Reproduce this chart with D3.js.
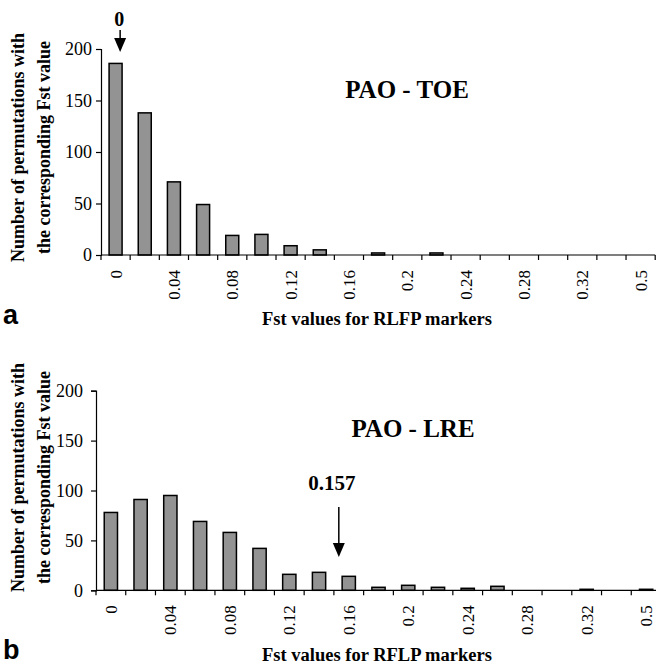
<!DOCTYPE html>
<html>
<head>
<meta charset="utf-8">
<script src="https://cdn.jsdelivr.net/npm/d3@7"></script>
<style>
  body { margin: 0; background: #fff; }
  svg { display: block; }
  svg text { font-family: "Liberation Serif", "Times New Roman", Times, serif; fill: #000; }
  svg text.letter { font-family: "Liberation Sans", Arial, Helvetica, sans-serif; }
</style>
</head>
<body>
<svg id="chart" width="656" height="665"></svg>
<script>
// Fst categories (bins) and permutation counts
var fstValues = ["0", "0.02", "0.04", "0.06", "0.08", "0.1", "0.12", "0.14", "0.16", "0.18",
  "0.2", "0.22", "0.24", "0.26", "0.28", "0.3", "0.32", "0.34", "0.5"];
var shownLabels = ["0", "0.04", "0.08", "0.12", "0.16", "0.2", "0.24", "0.28", "0.32", "0.5"];
var toeCounts = [186, 138, 71, 49, 19, 20, 9, 5, 0, 2, 0, 2, 0, 0, 0, 0, 0, 0, 0];
var lreCounts = [78, 91, 95, 69, 58, 42, 16, 18, 14, 3, 5, 3, 2, 4, 0, 0, 1, 0, 1];
var countTicks = [0, 50, 100, 150, 200];

var panels = [
  {
    letter: "a", title: "PAO - TOE", xTitle: "Fst values for RLFP markers",
    counts: toeCounts, marker: "0", markerAt: "0", markerShift: 0.85,
    left: 101, right: 655.2, top: 49, bottom: 255,
    titleX: 407, titleY: 97.5, labelCy: 147.5, yLabelGap: 9,
    xTitleY: 325, letterY: 324,
    arrowTop: 30, arrowTip: 52, markerY: 26
  },
  {
    letter: "b", title: "PAO - LRE", xTitle: "Fst values for RFLP markers",
    counts: lreCounts, marker: "0.157", markerAt: "0.16", markerShift: -0.25,
    left: 96, right: 661, top: 390.7, bottom: 590.3,
    titleX: 413, titleY: 437, labelCy: 477.5, yLabelGap: 13,
    xTitleY: 661, letterY: 659,
    arrowTop: 507, arrowTip: 557, markerY: 490
  }
];

var svg = d3.select("#chart");

panels.forEach(function (p) {
  var g = svg.append("g");

  var x = d3.scaleBand()
    .domain(fstValues)
    .range([p.left, p.right])
    .paddingInner(0.554)
    .paddingOuter(0.277);
  var y = d3.scaleLinear().domain([0, 200]).range([p.bottom, p.top]);
  var step = x.step();

  // bars
  g.selectAll("rect.bar")
    .data(fstValues.map(function (d, i) { return { fst: d, n: p.counts[i] }; })
      .filter(function (d) { return d.n > 0; }))
    .enter()
    .append("rect")
    .attr("class", "bar")
    .attr("x", function (d) { return x(d.fst); })
    .attr("width", x.bandwidth())
    .attr("y", function (d) { return y(d.n); })
    .attr("height", function (d) { return y(0) - y(d.n); })
    .attr("fill", "#939393")
    .attr("stroke", "#000")
    .attr("stroke-width", 1.5);

  // y axis
  var yAxis = g.append("g")
    .attr("transform", "translate(" + p.left + ",0)")
    .call(d3.axisLeft(y).tickValues(countTicks).tickSize(5).tickPadding(p.yLabelGap - 5));
  yAxis.attr("font-family", null);
  yAxis.select(".domain").attr("stroke", "#000").attr("stroke-width", 1.2);
  yAxis.selectAll(".tick line").attr("stroke", "#000").attr("stroke-width", 1.2);
  yAxis.selectAll(".tick text").style("font-size", "18px");

  // x axis with ticks at bin boundaries
  g.append("line")
    .attr("x1", p.left).attr("x2", p.right)
    .attr("y1", y(0)).attr("y2", y(0))
    .attr("stroke", "#000").attr("stroke-width", 1.2);
  var edges = fstValues.map(function (d) { return x(d) - step * x.paddingOuter(); });
  edges.push(p.right);
  g.selectAll("line.xtick")
    .data(edges)
    .enter()
    .append("line")
    .attr("class", "xtick")
    .attr("x1", function (d) { return d; }).attr("x2", function (d) { return d; })
    .attr("y1", y(0)).attr("y2", y(0) + 5)
    .attr("stroke", "#000").attr("stroke-width", 1.2);

  g.selectAll("text.xlab")
    .data(shownLabels)
    .enter()
    .append("text")
    .attr("class", "xlab")
    .attr("transform", function (d) {
      return "translate(" + (x(d) + x.bandwidth() / 2) + "," + (y(0) + 15) + ") rotate(-90)";
    })
    .attr("dy", "0.35em")
    .attr("text-anchor", "end")
    .style("font-size", "17px")
    .text(function (d) { return d; });

  // axis titles
  g.append("text")
    .attr("x", 262).attr("y", p.xTitleY)
    .style("font-size", "18.5px").style("font-weight", "bold")
    .text(p.xTitle);

  var yl = g.append("text")
    .attr("transform", "translate(0," + p.labelCy + ") rotate(-90)")
    .attr("text-anchor", "middle")
    .style("font-size", "18px").style("font-weight", "bold");
  yl.append("tspan").attr("x", 0).attr("y", 24).text("Number of permutations with");
  yl.append("tspan").attr("x", 0).attr("y", 50).text("the corresponding Fst value");

  // panel title and letter
  g.append("text")
    .attr("x", p.titleX).attr("y", p.titleY)
    .attr("text-anchor", "middle")
    .style("font-size", "25px").style("font-weight", "bold")
    .text(p.title);

  g.append("text")
    .attr("class", "letter")
    .attr("x", 3).attr("y", p.letterY)
    .style("font-size", "27px").style("font-weight", "bold")
    .text(p.letter);

  // observed value arrow
  var ax = x(p.markerAt) + x.bandwidth() * p.markerShift;
  var headH = 14;
  g.append("line")
    .attr("x1", ax).attr("x2", ax)
    .attr("y1", p.arrowTop).attr("y2", p.arrowTip - headH)
    .attr("stroke", "#000").attr("stroke-width", 1.5);
  g.append("path")
    .attr("d", "M" + (ax - 6) + "," + (p.arrowTip - headH) + "L" + (ax + 6) + "," + (p.arrowTip - headH) +
      "L" + ax + "," + p.arrowTip + "Z")
    .attr("fill", "#000");
  g.append("text")
    .attr("x", p.marker === "0" ? ax - 1 : ax - 7)
    .attr("y", p.markerY)
    .attr("text-anchor", "middle")
    .style("font-size", p.marker === "0" ? "20px" : "21px").style("font-weight", "bold")
    .text(p.marker);
});
</script>
</body>
</html>
